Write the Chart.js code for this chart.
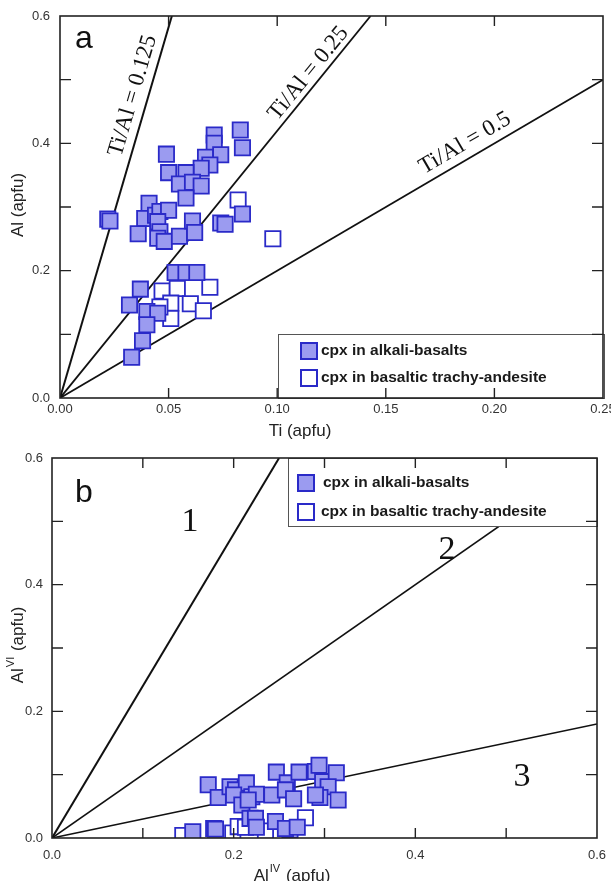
<!DOCTYPE html>
<html>
<head>
<meta charset="utf-8">
<script src="https://cdn.jsdelivr.net/npm/chart.js@4.4.0/dist/chart.umd.min.js"></script>
<style>
  html, body { margin: 0; padding: 0; background: #fff; overflow: hidden; width: 611px; height: 881px; }
  canvas { position: absolute; left: 0; }
  #chartA { top: 0; }
  #chartB { top: 440px; }
</style>
</head>
<body>
<canvas id="chartA" width="640" height="440" style="width:640px;height:440px"></canvas>
<canvas id="chartB" width="640" height="441" style="width:640px;height:441px"></canvas>
<script>
// ---- data, panel a (Ti vs Al) ----
const seriesNames = ['cpx in alkali-basalts', 'cpx in basaltic trachy-andesite'];

const aFilledTi = [0.083, 0.071, 0.071, 0.084, 0.049, 0.067, 0.074, 0.069, 0.065, 0.050, 0.058,
                   0.055, 0.061, 0.065, 0.058, 0.022, 0.023, 0.041, 0.039, 0.044, 0.046, 0.050,
                   0.045, 0.036, 0.046, 0.045, 0.048, 0.055, 0.061, 0.062, 0.074, 0.076, 0.084,
                   0.053, 0.058, 0.063, 0.037, 0.032, 0.040, 0.045, 0.040, 0.038, 0.033];
const aFilledAl = [0.421, 0.413, 0.400, 0.393, 0.383, 0.378, 0.382, 0.366, 0.361, 0.354, 0.354,
                   0.336, 0.339, 0.333, 0.314, 0.281, 0.278, 0.306, 0.282, 0.287, 0.293, 0.295,
                   0.277, 0.258, 0.261, 0.251, 0.246, 0.254, 0.278, 0.260, 0.275, 0.273, 0.289,
                   0.197, 0.197, 0.197, 0.171, 0.146, 0.136, 0.133, 0.115, 0.090, 0.064];
const aOpenTi = [0.082, 0.047, 0.054, 0.069, 0.051, 0.060, 0.066, 0.051, 0.046, 0.098];
const aOpenAl = [0.311, 0.168, 0.172, 0.174, 0.149, 0.148, 0.137, 0.125, 0.143, 0.250];

// reference lines from the origin (end points as drawn in the figure)
const aLineEndTi = [0.0515, 0.143, 0.25];
const aLineEndAl = [0.6, 0.6, 0.5];
const aLineLabels = ['Ti/Al = 0.125', 'Ti/Al = 0.25', 'Ti/Al = 0.5'];

// ---- data, panel b (AlIV vs AlVI) ----
const bFilledIV = [0.172, 0.183, 0.196, 0.202, 0.214, 0.200, 0.209, 0.220, 0.225, 0.216, 0.242,
                   0.247, 0.259, 0.257, 0.266, 0.272, 0.290, 0.294, 0.298, 0.313, 0.304, 0.295,
                   0.315, 0.290, 0.155, 0.178, 0.180, 0.218, 0.224, 0.246, 0.257, 0.270, 0.225];
const bFilledVI = [0.084, 0.064, 0.081, 0.076, 0.087, 0.068, 0.052, 0.065, 0.069, 0.060, 0.068,
                   0.104, 0.087, 0.076, 0.062, 0.104, 0.105, 0.115, 0.089, 0.103, 0.081, 0.064,
                   0.060, 0.068, 0.010, 0.015, 0.014, 0.031, 0.031, 0.026, 0.015, 0.017, 0.017];
const bOpenIV = [0.144, 0.199, 0.205, 0.235, 0.279, 0.262, 0.213];
const bOpenVI = [0.004, 0.008, 0.018, 0.011, 0.032, 0.013, 0.017];

const bLineEndIV = [0.25, 0.6, 0.6];
const bLineEndVI = [0.6, 0.6, 0.18];
const bZoneLabels = ['1', '2', '3'];

const FILL = '#9b9bf0';
const EDGE = '#2a2ac8';
const SANS = '"Liberation Sans", Arial, sans-serif';
const SERIF = '"Liberation Serif", "Times New Roman", serif';

function pts(xs, ys) {
  return xs.map((x, i) => ({ x: x, y: ys[i] }));
}

function lineSets(endX, endY, widths) {
  return endX.map((x, i) => ({
    type: 'scatter',
    data: [{ x: 0, y: 0 }, { x: x, y: endY[i] }],
    showLine: true,
    pointRadius: 0,
    borderColor: '#111',
    borderWidth: widths[i],
    order: 2
  }));
}

function evenLabel(v) {
  return Math.round(v * 10) % 2 === 0 ? v.toFixed(1) : '';
}

// draws frame, inward ticks, legend, axis titles and annotations
const decor = {
  id: 'decor',
  afterDatasetsDraw(chart, args, o) {
    const ctx = chart.ctx;
    const a = chart.chartArea;
    const xs = chart.scales.x, ys = chart.scales.y;
    ctx.save();

    // line annotations
    ctx.fillStyle = '#111';
    (o.lineText || []).forEach(t => {
      const x0 = xs.getPixelForValue(0), y0 = ys.getPixelForValue(0);
      const x1 = xs.getPixelForValue(t.ex), y1 = ys.getPixelForValue(t.ey);
      const dx = x1 - x0, dy = y1 - y0, len = Math.hypot(dx, dy);
      const px = x0 + dx * t.t + (dy / len) * t.off;
      const py = y0 + dy * t.t - (dx / len) * t.off;
      ctx.save();
      ctx.translate(px, py);
      ctx.rotate(Math.atan2(dy, dx));
      ctx.font = t.font;
      ctx.textAlign = 'center';
      ctx.textBaseline = 'middle';
      ctx.fillText(t.text, 0, 0);
      ctx.restore();
    });
    (o.freeText || []).forEach(t => {
      ctx.font = t.font;
      ctx.textAlign = t.align || 'center';
      ctx.textBaseline = t.baseline || 'middle';
      ctx.fillText(t.text, t.x, t.y);
    });

    // legend
    const L = o.legend;
    ctx.fillStyle = '#fff';
    ctx.fillRect(L.x, L.y, L.w, L.h);
    ctx.strokeStyle = '#555';
    ctx.lineWidth = 1;
    ctx.strokeRect(L.x + 0.5, L.y + 0.5, L.w, L.h);
    L.items.forEach((it, i) => {
      const ds = chart.data.datasets[i];
      ctx.fillStyle = ds.backgroundColor;
      ctx.fillRect(it.mx - 8, it.my - 8, 16, 16);
      ctx.strokeStyle = ds.borderColor;
      ctx.lineWidth = 2;
      ctx.strokeRect(it.mx - 8, it.my - 8, 16, 16);
      ctx.fillStyle = '#1a1a1a';
      ctx.font = 'bold 15.5px ' + SANS;
      ctx.textAlign = 'left';
      ctx.textBaseline = 'middle';
      ctx.fillText(ds.label, it.tx, it.my);
    });

    // frame
    ctx.strokeStyle = '#222';
    ctx.lineWidth = 1.6;
    ctx.strokeRect(a.left, a.top, a.right - a.left, a.bottom - a.top);

    // inward ticks on all four sides
    ctx.lineWidth = 1.4;
    ctx.beginPath();
    xs.ticks.forEach(t => {
      const p = xs.getPixelForValue(t.value);
      if (p <= a.left + 1 || p >= a.right - 1) return;
      ctx.moveTo(p, a.bottom); ctx.lineTo(p, a.bottom - 10);
      ctx.moveTo(p, a.top); ctx.lineTo(p, a.top + 10);
    });
    ys.ticks.forEach(t => {
      const p = ys.getPixelForValue(t.value);
      if (p <= a.top + 1 || p >= a.bottom - 1) return;
      ctx.moveTo(a.left, p); ctx.lineTo(a.left + 11, p);
      ctx.moveTo(a.right, p); ctx.lineTo(a.right - 11, p);
    });
    ctx.stroke();

    // axis titles (with optional superscript)
    ctx.fillStyle = '#222';
    o.titles.forEach(t => {
      ctx.save();
      ctx.translate(t.x, t.y);
      if (t.vertical) ctx.rotate(-Math.PI / 2);
      const main = '17px ' + SANS, small = '11px ' + SANS;
      ctx.font = main;
      const w1 = ctx.measureText(t.base).width;
      const w3 = ctx.measureText(t.rest).width;
      ctx.font = small;
      const w2 = t.sup ? ctx.measureText(t.sup).width + 2 : 0;
      let x = -(w1 + w2 + w3) / 2;
      ctx.textAlign = 'left';
      ctx.textBaseline = 'middle';
      ctx.font = main;
      ctx.fillText(t.base, x, 0); x += w1;
      if (t.sup) { ctx.font = small; ctx.fillText(t.sup, x + 1, -7); x += w2; }
      ctx.font = main;
      ctx.fillText(t.rest, x, 0);
      ctx.restore();
    });
    ctx.restore();
  }
};

function makeChart(id, cfg) {
  return new Chart(document.getElementById(id), {
    type: 'scatter',
    data: {
      datasets: [
        { label: seriesNames[0], data: cfg.filled, pointStyle: 'rect', pointRadius: 10.8,
          backgroundColor: FILL, borderColor: EDGE, borderWidth: 1.8, order: 0 },
        { label: seriesNames[1], data: cfg.open, pointStyle: 'rect', pointRadius: 10.8,
          backgroundColor: '#fff', borderColor: EDGE, borderWidth: 1.8, order: 1 }
      ].concat(cfg.lines)
    },
    options: {
      responsive: false,
      animation: false,
      layout: { padding: cfg.padding },
      plugins: { legend: { display: false }, tooltip: { enabled: false }, decor: cfg.decor },
      scales: {
        x: {
          type: 'linear', min: 0, max: cfg.xMax,
          grid: { display: false, drawTicks: false },
          border: { display: false },
          ticks: { stepSize: cfg.xStep, autoSkip: false, maxRotation: 0, padding: cfg.xPad,
                   color: '#333', font: { family: SANS, size: 13 }, callback: cfg.xLabel },
          afterFit: s => { s.height = cfg.xHeight; s.paddingLeft = 0; s.paddingRight = 0; }
        },
        y: {
          type: 'linear', min: 0, max: 0.6,
          grid: { display: false, drawTicks: false },
          border: { display: false },
          ticks: { stepSize: 0.1, autoSkip: false, padding: cfg.yPad,
                   color: '#333', font: { family: SANS, size: 13 }, callback: evenLabel },
          afterFit: s => { s.width = cfg.yWidth; s.paddingTop = 0; s.paddingBottom = 0; }
        }
      }
    },
    plugins: [decor]
  });
}

// panel a
makeChart('chartA', {
  filled: pts(aFilledTi, aFilledAl),
  open: pts(aOpenTi, aOpenAl),
  lines: lineSets(aLineEndTi, aLineEndAl, [2, 1.8, 1.8]),
  padding: { top: 16, right: 37, bottom: 0, left: 0 },
  xMax: 0.25, xStep: 0.05, xPad: 4, xHeight: 42, yPad: 10, yWidth: 60,
  xLabel: v => v.toFixed(2),
  decor: {
    lineText: aLineLabels.map((text, i) => ({
      text: text, ex: aLineEndTi[i], ey: aLineEndAl[i],
      t: [0.78, 0.83, 0.76][i], off: [15, 12, 15][i], font: '23px ' + SERIF
    })),
    freeText: [{ text: 'a', x: 75, y: 48, align: 'left', baseline: 'alphabetic', font: '32px ' + SANS }],
    legend: { x: 278, y: 334, w: 326, h: 64,
              items: [{ mx: 309, my: 351, tx: 321 }, { mx: 309, my: 378, tx: 321 }] },
    titles: [
      { x: 300, y: 431, base: 'Ti (apfu)', sup: '', rest: '' },
      { x: 18, y: 205, vertical: true, base: 'Al (apfu)', sup: '', rest: '' }
    ]
  }
});

// panel b
makeChart('chartB', {
  filled: pts(bFilledIV, bFilledVI),
  open: pts(bOpenIV, bOpenVI),
  lines: lineSets(bLineEndIV, bLineEndVI, [2, 1.6, 1.6]),
  padding: { top: 18, right: 43, bottom: 0, left: 0 },
  xMax: 0.6, xStep: 0.1, xPad: 10, xHeight: 43, yPad: 9, yWidth: 52,
  xLabel: evenLabel,
  decor: {
    lineText: [],
    freeText: [
      { text: 'b', x: 75, y: 62, align: 'left', baseline: 'alphabetic', font: '32px ' + SANS },
      { text: bZoneLabels[0], x: 190, y: 82, font: '34px ' + SERIF },
      { text: bZoneLabels[1], x: 447, y: 110, font: '34px ' + SERIF },
      { text: bZoneLabels[2], x: 522, y: 337, font: '34px ' + SERIF }
    ],
    legend: { x: 288, y: 18, w: 309, h: 68,
              items: [{ mx: 306, my: 43, tx: 323 }, { mx: 306, my: 72, tx: 321 }] },
    titles: [
      { x: 292, y: 436, base: 'Al', sup: 'IV', rest: ' (apfu)' },
      { x: 18, y: 205, vertical: true, base: 'Al', sup: 'VI', rest: ' (apfu)' }
    ]
  }
});
</script>
</body>
</html>
